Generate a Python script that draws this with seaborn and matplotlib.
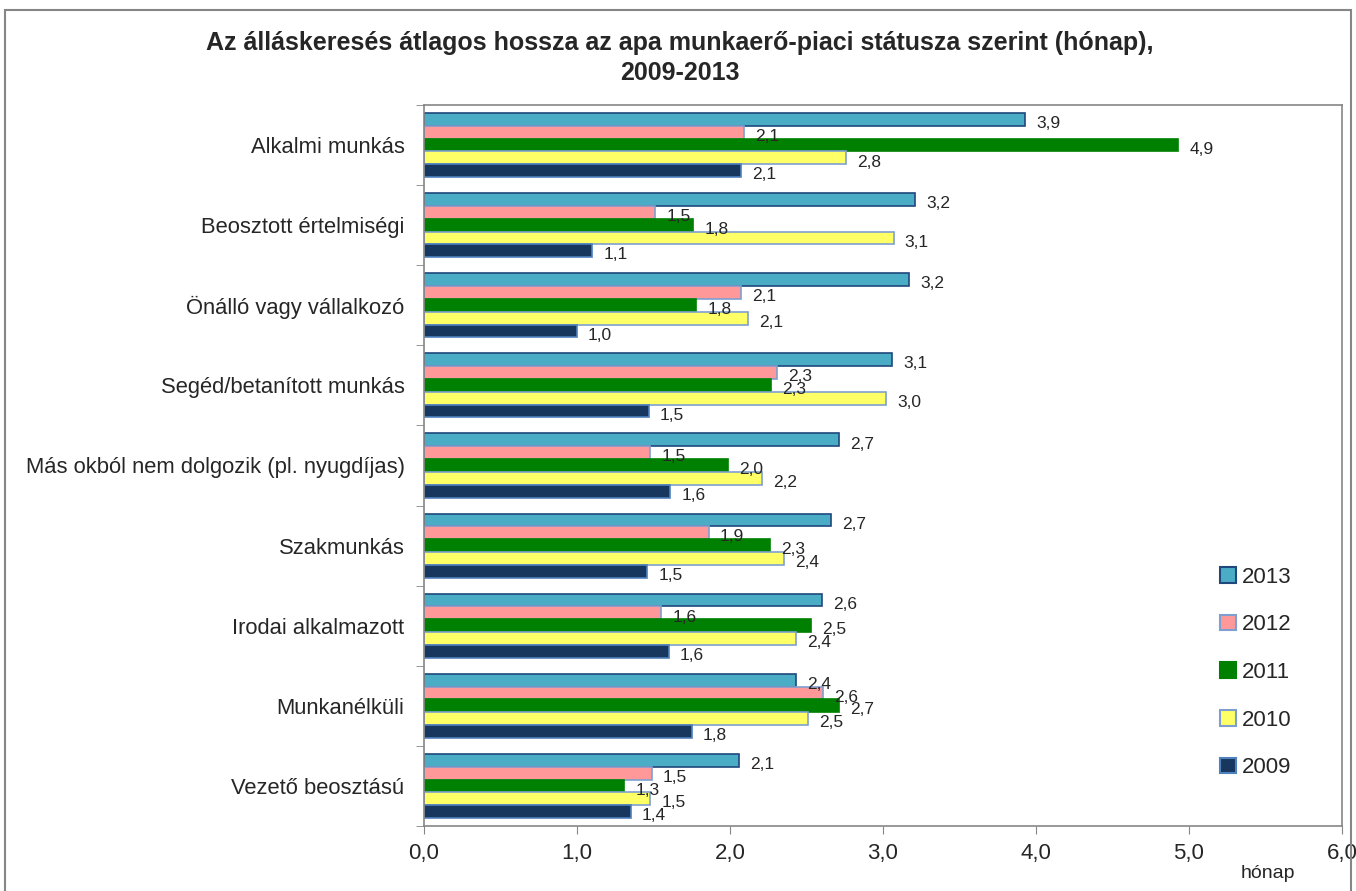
import numpy as np
import pandas as pd
import seaborn as sns
import matplotlib
matplotlib.use('Agg')
import matplotlib.pyplot as plt
from matplotlib.patches import Rectangle, Patch
from matplotlib.ticker import FixedLocator, FuncFormatter

categories = ['Alkalmi munkás', 'Beosztott értelmiségi', 'Önálló vagy vállalkozó',
              'Segéd/betanított munkás', 'Más okból nem dolgozik (pl. nyugdíjas)',
              'Szakmunkás', 'Irodai alkalmazott', 'Munkanélküli', 'Vezető beosztású']
years = ['2013', '2012', '2011', '2010', '2009']

v2013 = [3.93, 3.21, 3.17, 3.06, 2.71, 2.66, 2.60, 2.43, 2.06]
v2012 = [2.09, 1.51, 2.07, 2.31, 1.48, 1.86, 1.55, 2.61, 1.49]
v2011 = [4.93, 1.76, 1.78, 2.27, 1.99, 2.26, 2.53, 2.71, 1.31]
v2010 = [2.76, 3.07, 2.12, 3.02, 2.21, 2.35, 2.43, 2.51, 1.48]
v2009 = [2.07, 1.10, 1.00, 1.47, 1.61, 1.46, 1.60, 1.75, 1.35]

fill = {'2013': '#4BACC6', '2012': '#FF9999', '2011': '#008000',
        '2010': '#FFFF66', '2009': '#17375E'}
edge = {'2013': '#1F497D', '2012': '#7F9FD0', '2011': '#008000',
        '2010': '#7F9FD0', '2009': '#4F81BD'}

rows = []
for yr, vals in zip(years, [v2013, v2012, v2011, v2010, v2009]):
    for c, v in zip(categories, vals):
        rows.append({'cat': c, 'year': yr, 'value': v})
df = pd.DataFrame(rows)

sns.set_style('white')
plt.rcParams['font.family'] = ['Liberation Sans', 'DejaVu Sans']

fig = plt.figure(figsize=(13.56, 8.91), dpi=100)
ax = fig.add_axes([424 / 1356, 1 - 826 / 891, 918 / 1356, 721 / 891])

sns.barplot(data=df, y='cat', x='value', hue='year', order=categories,
            hue_order=years, palette=fill, orient='h', width=0.8,
            ax=ax, saturation=1, legend=False)

for cont, yr in zip(ax.containers, years):
    for p in cont:
        p.set_edgecolor(edge[yr])
        p.set_linewidth(1.2)
    texts = ax.bar_label(cont, labels=[f'{v:.1f}'.replace('.', ',') for v in cont.datavalues],
                         padding=8, fontsize=12.5)
    for t in texts:
        t.xyann = (8, -3)

ax.set_xlim(0, 6)
ax.set_ylim(len(categories) - 0.5, -0.5)
ax.set_xlabel('')
ax.set_ylabel('')
ax.xaxis.set_major_locator(FixedLocator(np.arange(0, 7)))
ax.xaxis.set_major_formatter(FuncFormatter(lambda x, pos: f'{x:.1f}'.replace('.', ',')))
ax.yaxis.set_minor_locator(FixedLocator(np.arange(-0.5, len(categories), 1)))
ax.tick_params(axis='x', which='major', direction='out', length=6, color='#868686',
               labelsize=16, pad=6, bottom=True)
ax.tick_params(axis='y', which='major', length=0, labelsize=15.8, pad=14)
ax.tick_params(axis='y', which='minor', direction='out', length=6, color='#868686', left=True)
for s in ax.spines.values():
    s.set_color('#868686')
    s.set_linewidth(1.2)
ax.grid(False)

handles = [Patch(facecolor=fill[y], edgecolor=edge[y], linewidth=1.5) for y in years]
leg = ax.legend(handles, years, loc='center left', bbox_to_anchor=(0.855, 0.213),
                frameon=False, fontsize=16, handlelength=0.7, handleheight=0.7,
                handletextpad=0.3, labelspacing=1.2, borderpad=0)

fig.text(0.5015, 1 - 58 / 891, 'Az álláskeresés átlagos hossza az apa munkaerő-piaci státusza szerint (hónap),\n2009-2013',
         ha='center', va='center', fontsize=18, fontweight='bold', linespacing=1.35)
fig.text(1268 / 1356, 1 - 874 / 891, 'hónap', ha='center', va='center', fontsize=14)

fig.patches.append(Rectangle((5 / 1356, -0.05), 1346 / 1356, 1.05 - 10 / 891,
                             transform=fig.transFigure, fill=False,
                             edgecolor='#868686', linewidth=1.5))

fig.savefig('out.png', dpi=100)
